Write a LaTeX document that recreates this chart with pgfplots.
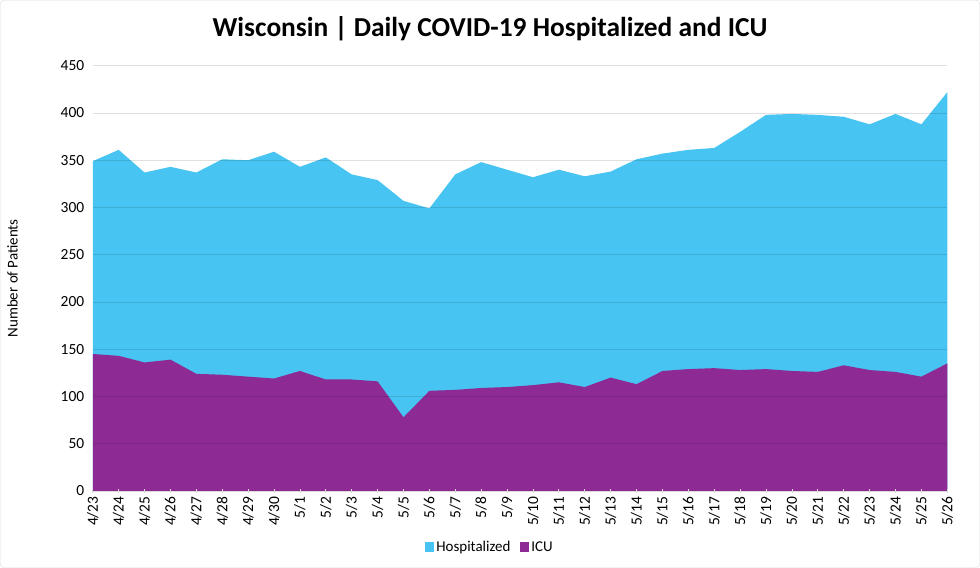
\documentclass[border=0pt]{standalone}
\usepackage{pgfplots}
\pgfplotsset{compat=1.18}
\usepackage{fontspec}
\setmainfont{Carlito}
\definecolor{hosp}{HTML}{47C4F2}
\definecolor{icu}{HTML}{8E2A93}
\definecolor{gridc}{HTML}{D9D9D9}
\begin{document}
\begin{tikzpicture}[x=1bp,y=1bp]
\draw[gridc, rounded corners=4bp] (0.5,0.5) rectangle (979.5,567.5);
\node[font=\bfseries\fontsize{27.5}{30}\selectfont] at (490,539) {Wisconsin | Daily COVID-19 Hospitalized and ICU};
\begin{axis}[
  at={(93bp,77bp)}, anchor=south west,
  width=854bp, height=425bp, scale only axis,
  xmin=0, xmax=33, ymin=0, ymax=450,
  ytick={0,50,...,450},
  xtick={0,...,33},
  xticklabels={4/23,4/24,4/25,4/26,4/27,4/28,4/29,4/30,5/1,5/2,5/3,5/4,5/5,5/6,5/7,5/8,5/9,5/10,5/11,5/12,5/13,5/14,5/15,5/16,5/17,5/18,5/19,5/20,5/21,5/22,5/23,5/24,5/25,5/26},
  x tick label style={rotate=90, anchor=east, font=\fontsize{15.5}{16}\selectfont},
  y tick label style={font=\fontsize{15.5}{16}\selectfont, xshift=-3bp},
  /pgf/number format/assume math mode=true,
  ymajorgrids, grid style={black, opacity=0.12, line width=0.5pt},
  axis on top,
  axis y line=left, axis x line=bottom,
  y axis line style={draw=none},
  x axis line style={gridc, line width=0.8pt, -},
  major tick length=4bp,
  xtick style={gridc, line width=0.8pt},
  ytick style={draw=none},
  ylabel={Number of Patients},
  ylabel style={font=\fontsize{15}{16}\selectfont, at={(axis description cs:-0.094,0.5)}, anchor=center},
  legend style={at={(axis description cs:0.465,-0.132)}, anchor=center, draw=none, legend columns=2, font=\fontsize{15}{16}\selectfont, /tikz/every even column/.append style={column sep=8bp}},
  legend image code/.code={\fill[#1] (0bp,-5bp) rectangle (9bp,5bp);},
]
\addplot[draw=none, fill=hosp] coordinates {
(0,349)(1,361)(2,337)(3,343)(4,337)(5,351)(6,350)(7,359)(8,343)(9,353)(10,335)(11,329)(12,307)(13,299)(14,335)(15,348)(16,340)(17,332)(18,340)(19,333)(20,338)(21,351)(22,357)(23,361)(24,363)(25,380)(26,398)(27,399)(28,398)(29,396)(30,388)(31,399)(32,388)(33,422)
} \closedcycle;
\addlegendentry{Hospitalized}
\addplot[draw=none, fill=icu] coordinates {
(0,145)(1,143)(2,136)(3,139)(4,124)(5,123)(6,121)(7,119)(8,127)(9,118)(10,118)(11,116)(12,78)(13,106)(14,107)(15,109)(16,110)(17,112)(18,115)(19,110)(20,120)(21,113)(22,127)(23,129)(24,130)(25,128)(26,129)(27,127)(28,126)(29,133)(30,128)(31,126)(32,121)(33,135)
} \closedcycle;
\addlegendentry{ICU}
\end{axis}
\end{tikzpicture}
\end{document}
